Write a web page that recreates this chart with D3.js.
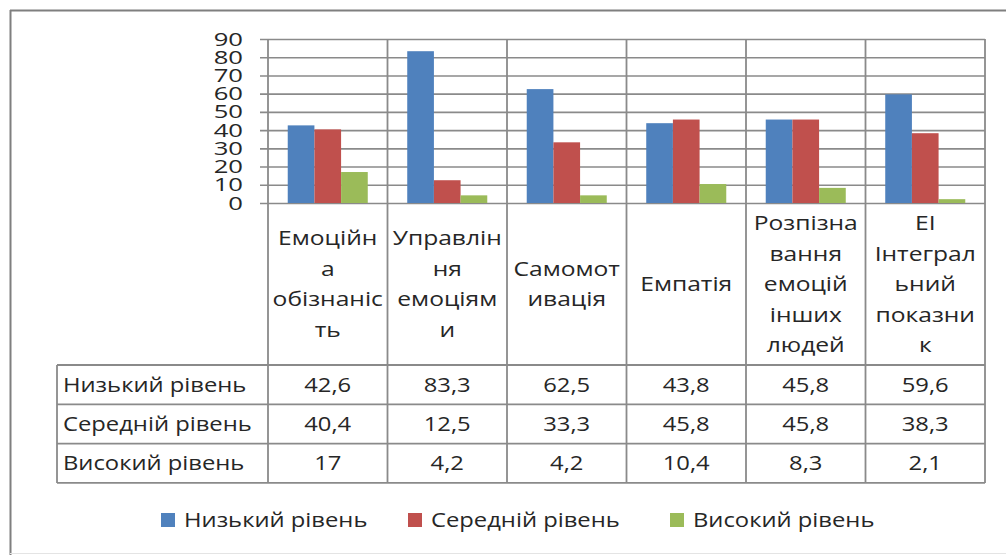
<!DOCTYPE html>
<html>
<head>
<meta charset="utf-8">
<script src="https://cdn.jsdelivr.net/npm/d3@7"></script>
<style>
  body { margin: 0; background: #fff; }
  text { font-family: "Open Sans", sans-serif; fill: #262626; }
</style>
</head>
<body>
<div id="chart"></div>
<script>
// Chart data
var categories = [
    ["Емоційн", "а", "обізнаніс", "ть"],
    ["Управлін", "ня", "емоціям", "и"],
    ["Самомот", "ивація"],
    ["Емпатія"],
    ["Розпізна", "вання", "емоцій", "інших", "людей"],
    ["EI", "Інтеграл", "ьний", "показни", "к"]
];
var seriesNames = ["Низький рівень", "Середній рівень", "Високий рівень"];
var lowValues = [42.6, 83.3, 62.5, 43.8, 45.8, 59.6];
var midValues = [40.4, 12.5, 33.3, 45.8, 45.8, 38.3];
var highValues = [17, 4.2, 4.2, 10.4, 8.3, 2.1];
var yTicks = [0, 10, 20, 30, 40, 50, 60, 70, 80, 90];
var colors = ["#4f81bd", "#c0504d", "#9bbb59"];

var seriesValues = [lowValues, midValues, highValues];

// Layout
var svgWidth = 1006;
var svgHeight = 555;
var plot = { left: 268, right: 985, top: 39, bottom: 203 };
var tableLeft = 57;
var labelBottom = 365;
var rowHeight = 39.3;
var gridColor = "#8a8a8a";

// the source picture is stretched sideways, so stretch the text the same way
function stretch(x, k) {
    return `translate(${x}, 0) scale(${k}, 1) translate(${-x}, 0)`;
}

var svg = d3.select("#chart")
  .append("svg")
  .attr("width", svgWidth)
  .attr("height", svgHeight);

// Outer frame
svg.append("line").attr("x1", 10).attr("x2", 1006).attr("y1", 10.5).attr("y2", 10.5)
    .attr("stroke", "#7f7f7f").attr("stroke-width", 2);
svg.append("line").attr("x1", 10.5).attr("x2", 10.5).attr("y1", 10).attr("y2", 555)
    .attr("stroke", "#7f7f7f").attr("stroke-width", 2);
svg.append("line").attr("x1", 10).attr("x2", 1006).attr("y1", 553.5).attr("y2", 553.5)
    .attr("stroke", "#e4e4e4").attr("stroke-width", 1);

// Scales
var catIndex = d3.range(categories.length);
var xScale = d3.scaleBand()
    .domain(catIndex)
    .range([plot.left, plot.right])
    .padding(0);

var xSub = d3.scaleBand()
    .domain(d3.range(seriesNames.length))
    .range([0, xScale.bandwidth()])
    .paddingInner(0)
    .paddingOuter(0.74);

var yScale = d3.scaleLinear()
    .domain([0, 90])
    .range([plot.bottom, plot.top]);

// Horizontal gridlines with tick marks
var gridLen = plot.right - plot.left + 8;
var leftAxis = d3.axisLeft(yScale)
    .tickValues(yTicks)
    .tickSize(-gridLen)
    .tickFormat(d3.format("d"));

var yAxis = svg.append("g")
    .attr("transform", `translate(${plot.right}, 0)`)
    .call(leftAxis);

yAxis.select(".domain").remove();
yAxis.selectAll("line")
    .attr("stroke", gridColor)
    .attr("stroke-width", 1.6)
    .attr("x2", -gridLen);
yAxis.selectAll("text")
    .attr("x", -gridLen - 17)
    .attr("font-size", 19)
    .attr("fill", "#333")
    .attr("transform", stretch(-gridLen - 17, 1.35));

// Bars
var groups = svg.append("g").selectAll("g")
    .data(catIndex)
    .enter()
    .append("g")
    .attr("transform", d => `translate(${xScale(d)}, 0)`);

groups.selectAll("rect")
    .data(c => seriesValues.map((vals, s) => ({ s: s, v: vals[c] })))
    .enter()
    .append("rect")
    .attr("x", d => xSub(d.s))
    .attr("y", d => yScale(d.v))
    .attr("width", xSub.bandwidth())
    .attr("height", d => yScale(0) - yScale(d.v))
    .attr("fill", d => colors[d.s]);

// Vertical category lines (plot + table)
var tableBottom = labelBottom + rowHeight * seriesNames.length;
var vlines = catIndex.map(c => xScale(c)).concat([plot.right]);
svg.append("g").selectAll("line")
    .data(vlines)
    .enter()
    .append("line")
    .attr("x1", d => d)
    .attr("x2", d => d)
    .attr("y1", plot.top)
    .attr("y2", tableBottom)
    .attr("stroke", gridColor)
    .attr("stroke-width", 1.8);

// Table horizontal lines
var rowLines = d3.range(seriesNames.length + 1).map(i => labelBottom + i * rowHeight);
svg.append("g").selectAll("line")
    .data(rowLines)
    .enter()
    .append("line")
    .attr("x1", tableLeft)
    .attr("x2", plot.right)
    .attr("y1", d => d)
    .attr("y2", d => d)
    .attr("stroke", gridColor)
    .attr("stroke-width", 1.8);

svg.append("line")
    .attr("x1", tableLeft).attr("x2", tableLeft)
    .attr("y1", labelBottom).attr("y2", tableBottom)
    .attr("stroke", gridColor)
    .attr("stroke-width", 1.8);

// Category labels (wrapped lines)
var lineGap = 30.5;
var labelMid = (plot.bottom + labelBottom) / 2;
catIndex.forEach(function(c) {
    var lines = categories[c];
    var cx = xScale(c) + xScale.bandwidth() / 2;
    var startY = labelMid - (lines.length - 1) * lineGap / 2;
    svg.append("text")
        .attr("x", cx)
        .attr("text-anchor", "middle")
        .attr("font-size", 20.5)
        .attr("transform", stretch(cx, 1.2))
        .selectAll("tspan")
        .data(lines)
        .enter()
        .append("tspan")
        .attr("x", cx)
        .attr("y", (d, i) => startY + i * lineGap)
        .attr("dy", "0.35em")
        .text(d => d);
});

// Table rows
var fmt = v => String(v).replace(".", ",");
seriesNames.forEach(function(name, s) {
    var cy = labelBottom + s * rowHeight + rowHeight / 2;
    svg.append("text")
        .attr("x", tableLeft + 6)
        .attr("y", cy)
        .attr("dy", "0.35em")
        .attr("font-size", 20.5)
        .attr("transform", stretch(tableLeft + 6, 1.16))
        .text(name);

    svg.append("g").selectAll("text")
        .data(seriesValues[s])
        .enter()
        .append("text")
        .attr("x", (d, i) => xScale(i) + xScale.bandwidth() / 2)
        .attr("y", cy)
        .attr("dy", "0.35em")
        .attr("text-anchor", "middle")
        .attr("font-size", 20.5)
        .attr("transform", (d, i) => stretch(xScale(i) + xScale.bandwidth() / 2, 1.16))
        .text(d => fmt(d));
});

// Legend
var legendX = [161, 408, 670];
var legend = svg.append("g").selectAll("g")
    .data(seriesNames)
    .enter()
    .append("g")
    .attr("transform", (d, i) => `translate(${legendX[i]}, 520)`);

legend.append("rect")
    .attr("x", 0)
    .attr("y", -7)
    .attr("width", 14)
    .attr("height", 14)
    .attr("fill", (d, i) => colors[i]);

legend.append("text")
    .attr("x", 23)
    .attr("y", 0)
    .attr("dy", "0.35em")
    .attr("font-size", 20.5)
    .attr("transform", stretch(23, 1.16))
    .text(d => d);
</script>
</body>
</html>
